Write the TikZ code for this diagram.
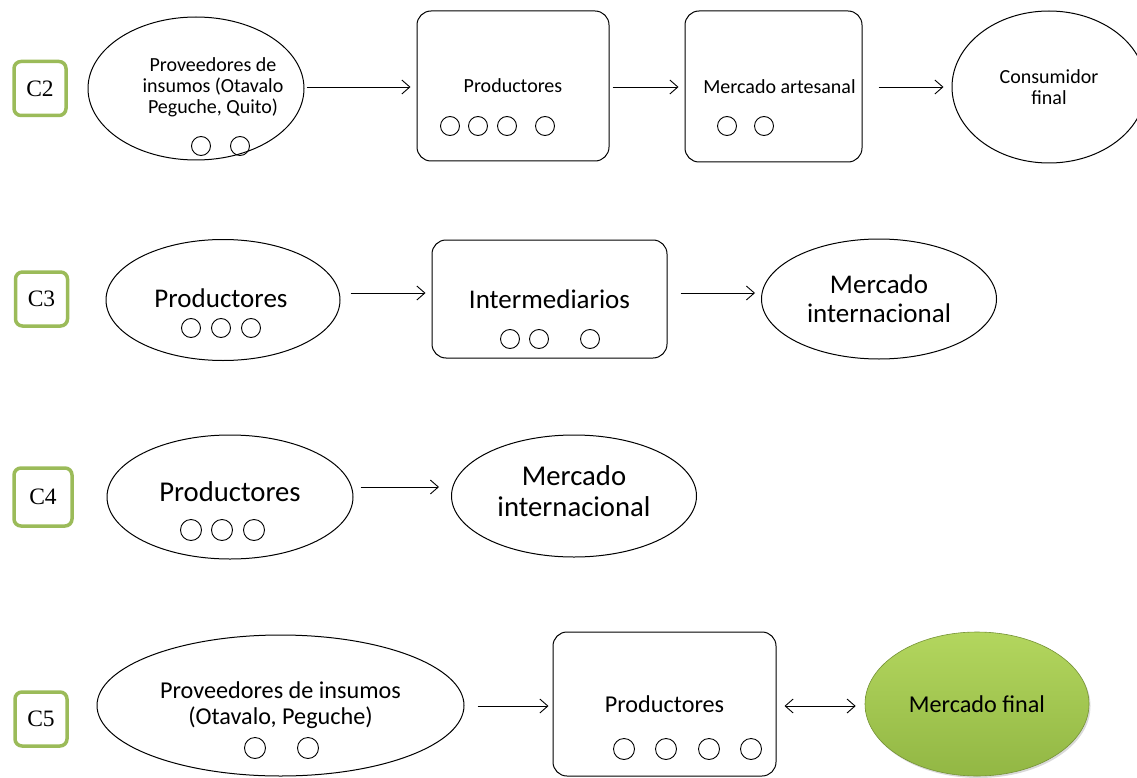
\documentclass[tikz,border=0pt]{standalone}
\usepackage{fontspec}
\setmainfont{Carlito}
\newfontfamily\tnr{Liberation Serif}
\usetikzlibrary{arrows.meta,shapes.geometric,shadows}
\definecolor{tagGreen}{HTML}{9BBB59}
\definecolor{mfTop}{HTML}{B3D65E}
\definecolor{mfMid}{HTML}{A5CB50}
\definecolor{mfBot}{HTML}{92B744}
\begin{document}
\begin{tikzpicture}[x=1pt,y=-1pt,
  tag/.style={draw=tagGreen, line width=3.5pt, rounded corners=7pt, minimum width=52pt, minimum height=54pt, inner sep=0pt, font=\tnr\fontsize{23.5}{26}\selectfont},
  ell/.style={draw, ellipse, line width=1pt, inner sep=0pt, align=center},
  rbox/.style={draw, rounded corners=14pt, line width=1pt, inner sep=0pt, align=center},
  dot/.style={draw, circle, minimum size=19pt, inner sep=0pt, line width=0.9pt},
  bigdot/.style={dot, minimum size=21pt},
  arr/.style={-{Straight Barb[length=8pt,width=14pt]}, line width=0.9pt},
  darr/.style={{Straight Barb[length=8pt,width=14pt]}-{Straight Barb[length=8pt,width=14pt]}, line width=0.9pt},
  fA/.style={font=\fontsize{20}{21}\selectfont},
  fB/.style={font=\fontsize{27}{29}\selectfont},
  fD/.style={font=\fontsize{28.7}{31}\selectfont},
  fC/.style={font=\fontsize{24.2}{26}\selectfont}
]
\useasboundingbox (0,0) rectangle (1137,778);

% ---------- C2 ----------
\node[tag] (t2) at (40,88.5) {C2};
\node[ell, minimum width=216pt, minimum height=143pt, label={[fA, align=center, xshift=17pt, yshift=1.5pt]center:Proveedores de\\insumos (Otavalo\\Peguche, Quito)}] (c2e1) at (196,88.5) {};
\node[rbox, fA, minimum width=192pt, minimum height=150pt] (c2b1) at (513,86) {Productores};
\node[rbox, minimum width=177pt, minimum height=151pt, label={[fA, xshift=6pt]center:Mercado artesanal}] (c2b2) at (773.5,86.5) {};
\node[ell, fA, minimum width=194pt, minimum height=152pt] (c2e4) at (1049,87) {Consumidor\\final};
\node[dot] (c2d1) at (201,146) {};
\node[dot] (c2d2) at (240,146) {};
\node[dot] (c2d3) at (450,126) {};
\node[dot] (c2d4) at (478,126) {};
\node[dot] (c2d5) at (507,126) {};
\node[dot] (c2d6) at (545,126) {};
\node[dot] (c2d7) at (727,126) {};
\node[dot] (c2d8) at (764,126) {};
\draw[arr, shorten <=2pt, shorten >=6pt] ([yshift=1.5pt]c2e1.east) -- ([yshift=1.5pt]c2e1.east -| c2b1.west);
\draw[arr, shorten <=3pt, shorten >=6pt] ([yshift=-1pt]c2b1.east) -- ([yshift=-1pt]c2b1.east -| c2b2.west);
\draw[arr, shorten <=16pt, shorten >=8pt] ([yshift=-0.5pt]c2b2.east) -- ([yshift=-0.5pt]c2b2.east -| c2e4.west);

% ---------- C3 ----------
\node[tag] (t3) at (41.5,299) {C3};
\node[ell, minimum width=234pt, minimum height=121pt, label={[fB, xshift=-2pt, yshift=2pt]center:Productores}] (c3e1) at (223,300) {};
\node[rbox, fB, minimum width=235pt, minimum height=118pt] (c3b1) at (549.5,299) {Intermediarios};
\node[ell, fB, minimum width=235pt, minimum height=120pt] (c3e3) at (879,299) {Mercado\\internacional};
\node[dot] (c3d1) at (191,328) {};
\node[dot] (c3d2) at (221,328) {};
\node[dot] (c3d3) at (251,328) {};
\node[dot] (c3d4) at (510,339) {};
\node[dot] (c3d5) at (539,339) {};
\node[dot] (c3d6) at (590,339) {};
\draw[arr, shorten <=10pt, shorten >=6pt] ([yshift=7pt]c3e1.east) -- ([yshift=7pt]c3e1.east -| c3b1.west);
\draw[arr, shorten <=13pt, shorten >=6pt] ([yshift=6pt]c3b1.east) -- ([yshift=6pt]c3b1.east -| c3e3.west);

% ---------- C4 ----------
\node[tag, minimum width=58pt, minimum height=58pt] (t4) at (43,497) {C4};
\node[ell, minimum width=246pt, minimum height=124pt, label={[fD, yshift=5pt]center:Productores}] (c4e1) at (230,497) {};
\node[ell, minimum width=245pt, minimum height=122pt, label={[fD, align=center, yshift=4.5pt]center:Mercado\\internacional}] (c4e2) at (574,496) {};
\node[bigdot] (c4d1) at (191,530) {};
\node[bigdot] (c4d2) at (222,530) {};
\node[bigdot] (c4d3) at (254,530) {};
\draw[arr, shorten <=7pt, shorten >=12pt] ([yshift=10pt]c4e1.east) -- ([yshift=10pt]c4e1.east -| c4e2.west);

% ---------- C5 ----------
\node[tag] (t5) at (41,719) {C5};
\node[ell, fC, minimum width=367pt, minimum height=141pt] (c5e1) at (280.5,705.5) {Proveedores de insumos\\(Otavalo, Peguche)};
\node[rbox, fC, minimum width=223pt, minimum height=144pt] (c5b1) at (664.5,704) {Productores};
\node[ellipse, fC, inner sep=0pt, minimum width=224pt, minimum height=144pt, top color=mfTop, middle color=mfMid, bottom color=mfBot, draw=mfBot!80!black, line width=0.6pt, drop shadow={opacity=0.3, shadow xshift=1.5pt, shadow yshift=-2pt}] (c5e3) at (977,704) {Mercado final};
\node[bigdot] (c5d1) at (255,748) {};
\node[bigdot] (c5d2) at (308,748) {};
\node[bigdot] (c5d3) at (624,749) {};
\node[bigdot] (c5d4) at (666,749) {};
\node[bigdot] (c5d5) at (709,749) {};
\node[bigdot] (c5d6) at (751,749) {};
\draw[arr, shorten <=13pt, shorten >=4pt] ([yshift=-0.5pt]c5e1.east) -- ([yshift=-0.5pt]c5e1.east -| c5b1.west);
\draw[darr, shorten <=8pt, shorten >=9pt] ([yshift=-2pt]c5b1.east) -- ([yshift=-2pt]c5b1.east -| c5e3.west);
\end{tikzpicture}
\end{document}
